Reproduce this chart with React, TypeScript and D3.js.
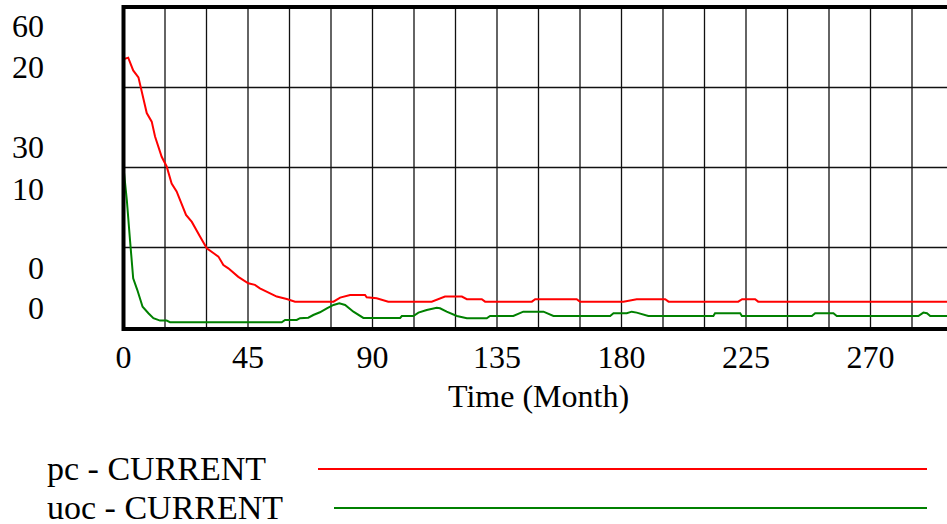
import React, { useEffect, useRef } from "react";
import * as d3 from "d3";

// pc - CURRENT (left scale 0..60)
const pcTime = [0, 1.7, 3.5, 5.4, 8.4, 10.2, 11.4, 13.8, 15.6, 17.4, 19.2, 22.6, 24.7, 27.7, 30.1, 34.3, 36.1, 37.9, 41.5, 45.1, 47.5, 49.3, 53, 55.4, 59, 62, 75.9, 78.3, 81.9, 87.3, 87.9, 91.5, 95.7, 111.4, 116.2, 122.3, 124.1, 129.5, 130.7, 147.6, 148.8, 163.8, 165, 180.7, 185.5, 195.8, 197, 222.2, 223.6, 228.3, 229.4, 300];
const pcValue = [50.3, 50.6, 48.2, 46.9, 40.2, 38.6, 35.8, 32.0, 30.2, 27.0, 25.5, 21.1, 19.8, 17.0, 14.85, 13.3, 11.7, 11.1, 9.5, 8.3, 8.0, 7.35, 6.4, 5.8, 5.35, 4.85, 4.85, 5.6, 6.1, 6.1, 5.65, 5.5, 4.85, 4.85, 5.8, 5.8, 5.3, 5.3, 4.85, 4.85, 5.3, 5.3, 4.85, 4.85, 5.3, 5.3, 4.85, 4.85, 5.3, 5.3, 4.85, 4.85];

// uoc - CURRENT (second scale 0..20)
const uocTime = [0, 1.2, 2.35, 3.5, 5, 6.9, 9, 10.8, 13.2, 15.6, 16.8, 57.2, 58.4, 62.6, 63.8, 66.8, 68.6, 71, 73.5, 75.9, 78, 80.1, 83.1, 86.7, 100, 100.6, 104.8, 106.6, 109.6, 113.2, 114.4, 116.8, 120.5, 124.1, 131.3, 132.5, 140.9, 144.5, 151.8, 155.4, 175.9, 177.1, 181.9, 183.7, 185.5, 189.7, 213.2, 213.8, 222.9, 223.5, 248.8, 250, 256.6, 257.8, 287.3, 289.1, 290.4, 291.6, 300];
const uocValue = [10, 7.97, 5.47, 3.08, 2.34, 1.3, 0.89, 0.58, 0.43, 0.43, 0.33, 0.33, 0.47, 0.47, 0.58, 0.61, 0.78, 0.95, 1.2, 1.41, 1.51, 1.41, 0.99, 0.6, 0.6, 0.72, 0.72, 0.93, 1.09, 1.24, 1.2, 0.99, 0.72, 0.58, 0.58, 0.72, 0.72, 0.99, 0.99, 0.72, 0.72, 0.89, 0.89, 0.99, 0.93, 0.72, 0.72, 0.89, 0.89, 0.72, 0.72, 0.89, 0.89, 0.72, 0.72, 0.93, 0.89, 0.72, 0.72];

const xTicks = [0, 45, 90, 135, 180, 225, 270];
const pcTicks = ["60", "30", "0"];
const uocTicks = ["20", "10", "0"];
const legendNames = ["pc - CURRENT", "uoc - CURRENT"];
const legendColors = ["#ff0000", "#008000"];

const FONT = "'Liberation Serif', 'Times New Roman', serif";

const App = () => {
  const svgRef = useRef<SVGSVGElement>(null);

  useEffect(() => {
    const svg = d3.select(svgRef.current);
    svg.selectAll("*").remove();

    const left = 123.5;
    const right = 953.5;
    const top = 7.5;
    const bottom = 327.5;

    const x = d3.scaleLinear().domain([0, 300]).range([left, right]);
    const yPc = d3.scaleLinear().domain([0, 60]).range([bottom, top]);
    const yUoc = d3.scaleLinear().domain([0, 20]).range([bottom, top]);

    // grid
    const grid = svg.append("g");
    grid
      .selectAll("line.v")
      .data(d3.range(15, 300, 15))
      .join("line")
      .attr("x1", (d) => x(d))
      .attr("x2", (d) => x(d))
      .attr("y1", top)
      .attr("y2", bottom)
      .attr("stroke", "#111")
      .attr("stroke-width", 1.3);
    grid
      .selectAll("line.h")
      .data([15, 30, 45])
      .join("line")
      .attr("x1", left)
      .attr("x2", right)
      .attr("y1", (d) => yPc(d))
      .attr("y2", (d) => yPc(d))
      .attr("stroke", "#111")
      .attr("stroke-width", 1.3);

    // curves
    const pcLine = d3
      .line<number>()
      .x((d) => x(d))
      .y((d, i) => yPc(pcValue[i]));
    const uocLine = d3
      .line<number>()
      .x((d) => x(d))
      .y((d, i) => yUoc(uocValue[i]));

    svg
      .append("path")
      .attr("d", uocLine(uocTime))
      .attr("fill", "none")
      .attr("stroke", legendColors[1])
      .attr("stroke-width", 2);
    svg
      .append("path")
      .attr("d", pcLine(pcTime))
      .attr("fill", "none")
      .attr("stroke", legendColors[0])
      .attr("stroke-width", 2);

    // frame
    svg
      .append("rect")
      .attr("x", left)
      .attr("y", top - 0.5)
      .attr("width", right - left)
      .attr("height", bottom - top + 2)
      .attr("fill", "none")
      .attr("stroke", "#000")
      .attr("stroke-width", 4);

    // x axis labels
    svg
      .selectAll("text.xt")
      .data(xTicks)
      .join("text")
      .attr("x", (d) => x(d))
      .attr("y", 368)
      .attr("text-anchor", "middle")
      .attr("font-family", FONT)
      .attr("font-size", 32)
      .text((d) => d);

    svg
      .append("text")
      .attr("x", (left + right) / 2)
      .attr("y", 407)
      .attr("text-anchor", "middle")
      .attr("font-family", FONT)
      .attr("font-size", 32)
      .text("Time (Month)");

    // y labels (two stacked scales)
    const yVals = [60, 30, 0];
    const offsets = [
      [29.5, 70.5],
      [-9.5, 32.5],
      [-48.5, -8.5],
    ];
    yVals.forEach((v, i) => {
      [pcTicks[i], uocTicks[i]].forEach((label, j) => {
        svg
          .append("text")
          .attr("x", 44)
          .attr("y", yPc(v) + offsets[i][j])
          .attr("text-anchor", "end")
          .attr("font-family", FONT)
          .attr("font-size", 32)
          .text(label);
      });
    });

    // legend
    const legendY = [480, 519];
    const lineStart = [318, 334];
    legendNames.forEach((name, i) => {
      svg
        .append("text")
        .attr("x", 47)
        .attr("y", legendY[i])
        .attr("font-family", FONT)
        .attr("font-size", 34)
        .text(name);
      svg
        .append("line")
        .attr("x1", lineStart[i])
        .attr("x2", 927)
        .attr("y1", legendY[i] - 11)
        .attr("y2", legendY[i] - 11)
        .attr("stroke", legendColors[i])
        .attr("stroke-width", 2);
    });
  }, []);

  return (
    <svg
      ref={svgRef}
      width={947}
      height={524}
      style={{ position: "absolute", left: 0, top: 0, background: "#fff" }}
    />
  );
};

export default App;
